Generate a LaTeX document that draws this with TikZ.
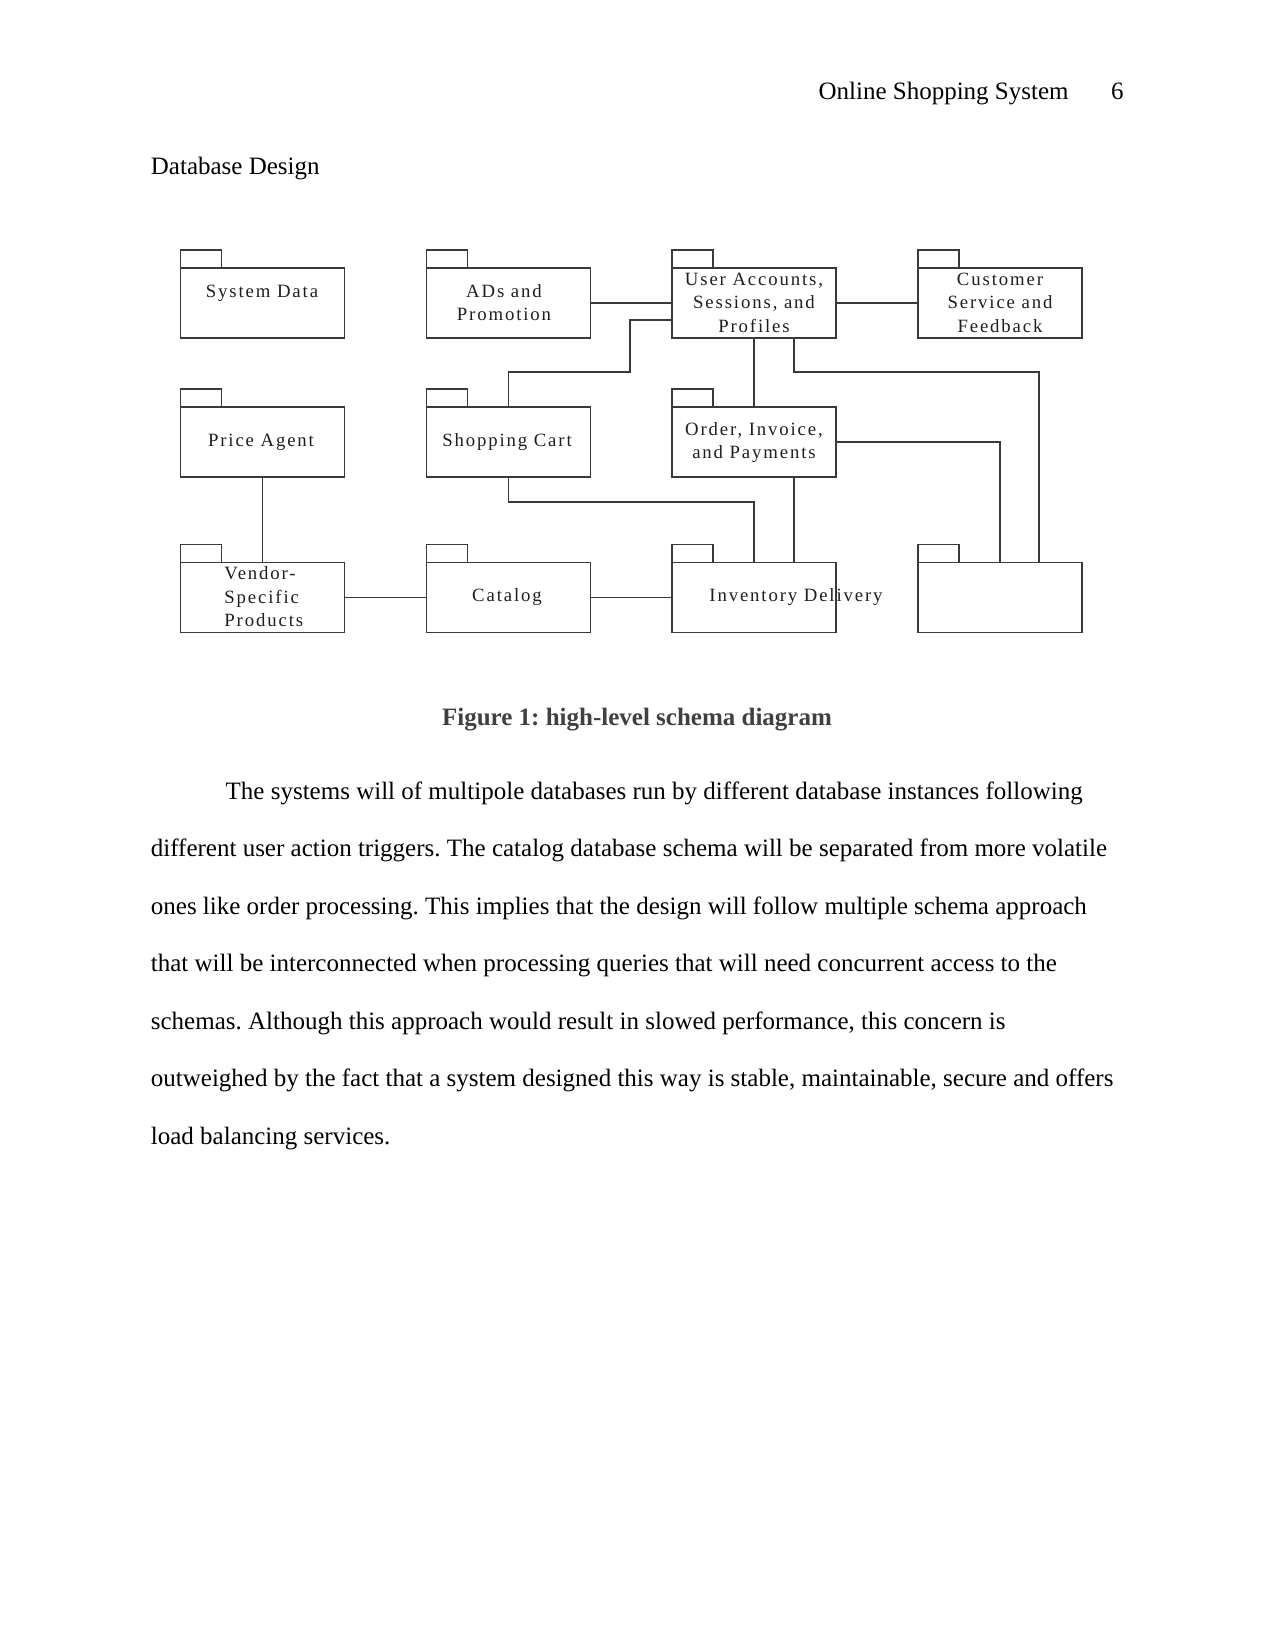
\documentclass[tikz,border=0pt]{standalone}
\usepackage{fontspec}
\setmainfont{Liberation Serif}
\newfontfamily\pkgfont[LetterSpace=10]{Liberation Serif}
\usetikzlibrary{calc}
\frenchspacing
\definecolor{SDLine}{HTML}{3A3A3A}
\definecolor{SDText}{HTML}{1E1E1E}
\definecolor{SDCaption}{HTML}{404040}
\tikzset{
  pkg/.style={draw=SDLine,line width=0.85pt,inner sep=0pt,outer sep=0pt,
              minimum width=78.7pt,minimum height=33.6pt},
  pkgtab/.style={draw=SDLine,line width=0.85pt},
  link/.style={SDLine,line width=0.85pt},
  pkgtext/.style={text=SDText,font=\pkgfont\fontsize{9}{11.3}\selectfont,align=center,inner sep=0pt},
  bodytext/.style={font=\fontsize{12}{14}\selectfont,inner sep=0pt,anchor=base west},
  captiontext/.style={text=SDCaption,font=\fontsize{12}{14}\selectfont\bfseries,inner sep=0pt,anchor=base},
}
\begin{document}
\begin{tikzpicture}[x=0.48pt,y=-0.48pt]
    \useasboundingbox (0,0) rectangle (1275,1651);
    % page head
    \node[bodytext,anchor=base east] (head) at (1069,100) {Online Shopping System};
    \node[bodytext,anchor=base east] (pageno) at (1124,100) {6};
    \node[bodytext] (title) at (150.5,174.5) {Database Design};

    % the packages, row by row
    \node[pkg] (sys)    at (262.5,303) {};
    \node[pkg] (ads)    at (508.5,303) {};
    \node[pkg] (usr)    at (754,303) {};
    \node[pkg] (cust)   at (1000,303) {};
    \node[pkg] (price)  at (262.5,442) {};
    \node[pkg] (cart)   at (508.5,442) {};
    \node[pkg] (order)  at (754,442) {};
    \node[pkg] (vendor) at (262.5,597.5) {};
    \node[pkg] (cat)    at (508.5,597.5) {};
    \node[pkg] (inv)    at (754,597.5) {};
    \node[pkg] (blank)  at (1000,597.5) {};
    \foreach \n in {sys,ads,usr,cust,price,cart,order,vendor,cat,inv,blank}
      \draw[pkgtab] (\n.north west) rectangle ++(19.7pt,8.6pt);

    % package names
    \node[pkgtext] (sysname)    at (262,293) {System Data};
    \node[pkgtext] (adsname)    at (504,302.5) {ADs and\\Promotion};
    \node[pkgtext] (usrname)    at (754,302.5) {User Accounts,\\Sessions, and\\Profiles};
    \node[pkgtext] (custname)   at (1000,302.5) {Customer\\Service and\\Feedback};
    \node[pkgtext] (pricename)  at (261,442) {Price Agent};
    \node[pkgtext] (cartname)   at (507,442) {Shopping Cart};
    \node[pkgtext] (ordername)  at (754,442.5) {Order, Invoice,\\and Payments};
    \node[pkgtext,align=left,anchor=west] (vendorname) at (224,597) {Vendor-\\Specific\\Products};
    \node[pkgtext] (catname)    at (507,597) {Catalog};
    \node[pkgtext] (invname)    at (796,597) {Inventory Delivery};

    % links between packages
    \draw[link] (ads.east) -- (usr.west);
    \draw[link] (usr.east) -- (cust.west);
    \draw[link] ([yshift=-8.2pt]usr.west) -| ++(-42,52) -| (cart.north);
    \draw[link] (usr.south) -- (order.north);
    \draw[link] ([xshift=19.2pt]usr.south) -- ++(0,34) -| ([xshift=18.7pt]blank.north);
    \draw[link] (order.east) -| (blank.north);
    \draw[link] ([xshift=19.2pt]order.south) -- ([xshift=19.2pt]inv.north);
    \draw[link] (cart.south) -- ++(0,25) -| (inv.north);
    \draw[link] (price.south) -- (vendor.north);
    \draw[link] (vendor.east) -- (cat.west);
    \draw[link] (cat.east) -- (inv.west);

    \node[captiontext] (caption) at (637,725) {Figure 1: high-level schema diagram};

    % body text, one node per line
    \node[bodytext] (line1) at (225.3,799) {The systems will of multipole databases run by different database instances following};
    \node[bodytext] (line2) at (150.5,856.6) {different user action triggers. The catalog database schema will be separated from more volatile};
    \node[bodytext] (line3) at (150.5,914.1) {ones like order processing. This implies that the design will follow multiple schema approach};
    \node[bodytext] (line4) at (150.5,971.7) {that will be interconnected when processing queries that will need concurrent access to the};
    \node[bodytext] (line5) at (150.5,1029.2) {schemas. Although this approach would result in slowed performance, this concern is};
    \node[bodytext] (line6) at (150.5,1086.8) {outweighed by the fact that a system designed this way is stable, maintainable, secure and offers};
    \node[bodytext] (line7) at (150.5,1144.3) {load balancing services.};
\end{tikzpicture}
\end{document}
